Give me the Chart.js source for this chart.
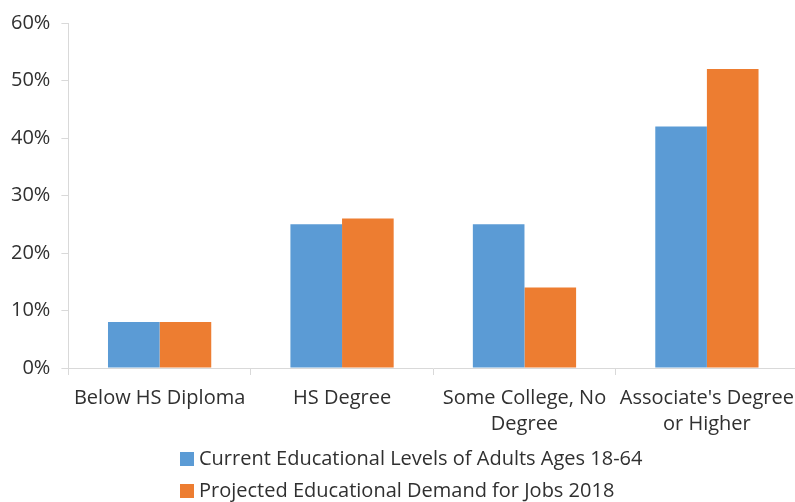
<!DOCTYPE html>
<html>
<head>
<meta charset="utf-8">
<script src="https://cdn.jsdelivr.net/npm/chart.js@4"></script>
<style>
  html, body { margin: 0; padding: 0; background: #fff; overflow: hidden; }
  #wrap { width: 795px; height: 502px; overflow: hidden; }
  /* the original image is cut off a few pixels past the last category */
  #inner { width: 804px; height: 502px; position: relative; }
</style>
</head>
<body>
<div id="wrap"><div id="inner"><canvas id="eduChart"></canvas></div></div>
<script>
const categories = [
  "Below HS Diploma",
  "HS Degree",
  ["Some College, No", "Degree"],
  ["Associate's Degree", "or Higher"]
];
const seriesNames = [
  "Current Educational Levels of Adults Ages 18-64",
  "Projected Educational Demand for Jobs 2018"
];
const currentLevels = [8, 25, 25, 42];
const projectedDemand = [8, 26, 14, 52];
const yTicks = [0, 10, 20, 30, 40, 50, 60];

const textColor = "#303030";
const axisColor = "#d9d9d9";
const fontFamily = "'Open Sans', sans-serif";

// legend drawn by hand so both rows start at the same x like the original
const leftLegend = {
  id: "leftLegend",
  afterDraw(chart) {
    const ctx = chart.ctx;
    ctx.save();
    ctx.font = "20px " + fontFamily;
    ctx.textBaseline = "middle";
    chart.data.datasets.forEach((ds, i) => {
      const y = 459 + i * 32;
      ctx.fillStyle = ds.backgroundColor;
      ctx.fillRect(180, y - 7, 14, 14);
      ctx.fillStyle = textColor;
      ctx.fillText(ds.label, 199, y);
    });
    ctx.restore();
  }
};

new Chart(document.getElementById("eduChart"), {
  type: "bar",
  data: {
    labels: categories,
    datasets: [
      {
        label: seriesNames[0],
        data: currentLevels,
        backgroundColor: "#5B9BD5"
      },
      {
        label: seriesNames[1],
        data: projectedDemand,
        backgroundColor: "#ED7D31"
      }
    ]
  },
  options: {
    responsive: true,
    maintainAspectRatio: false,
    animation: false,
    layout: { padding: { top: 0, right: 0, bottom: 55, left: 0 } },
    datasets: {
      bar: { categoryPercentage: 0.566, barPercentage: 1.0 }
    },
    plugins: {
      legend: { display: false },
      tooltip: { enabled: false }
    },
    scales: {
      x: {
        grid: {
          offset: true,
          drawOnChartArea: false,
          drawTicks: true,
          tickLength: 7,
          color: axisColor
        },
        border: { display: true, color: axisColor, width: 1 },
        ticks: {
          color: textColor,
          padding: 10,
          maxRotation: 0,
          autoSkip: false,
          font: { family: fontFamily, size: 20, lineHeight: 1.3 }
        }
      },
      y: {
        min: 0,
        max: 60,
        afterBuildTicks(axis) {
          axis.ticks = yTicks.map(v => ({ value: v }));
        },
        grid: {
          drawOnChartArea: false,
          drawTicks: true,
          tickLength: 7,
          color: axisColor
        },
        border: { display: true, color: axisColor, width: 1 },
        ticks: {
          color: textColor,
          padding: 11,
          callback: v => v + "%",
          font: { family: fontFamily, size: 20 }
        }
      }
    }
  },
  plugins: [leftLegend]
});
</script>
</body>
</html>
